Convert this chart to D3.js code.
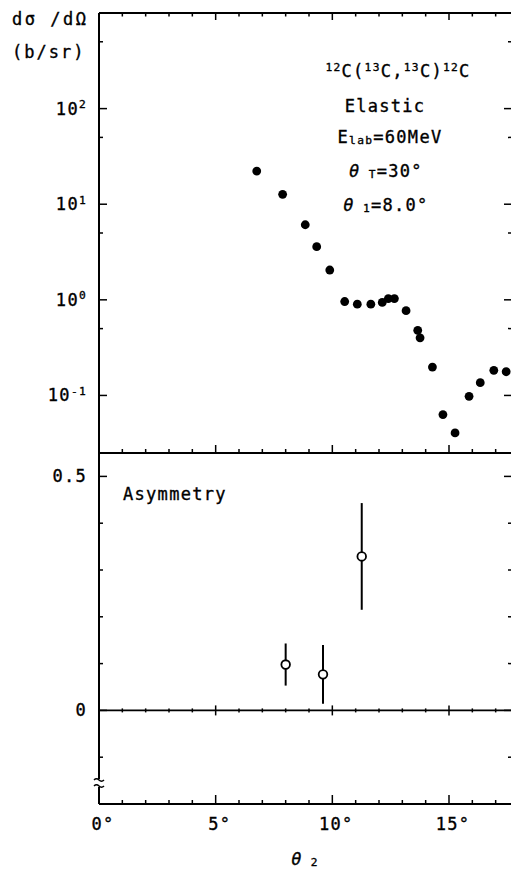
<!DOCTYPE html>
<html>
<head>
<meta charset="utf-8">
<script src="https://cdn.jsdelivr.net/npm/d3@7"></script>
<style>
  body { margin: 0; background: #fff; }
  svg { display: block; font-family: 'DejaVu Sans Mono', monospace; }
  text { fill: #000; stroke: #000; stroke-width: 0.35px; letter-spacing: 1.3px; }
</style>
</head>
<body>
<svg width="511" height="870"></svg>
<script>
// cross section data (theta2 in degrees, dsigma/dOmega in b/sr)
var thetaXS = [6.76, 7.87, 8.84, 9.33, 9.89, 10.53, 11.07, 11.65, 12.14, 12.40, 12.66,
               13.16, 13.66, 13.76, 14.29, 14.74, 15.26, 15.86, 16.34, 16.92, 17.45];
var xsValues = [22.2, 12.7, 6.1, 3.6, 2.05, 0.96, 0.90, 0.90, 0.94, 1.03, 1.03,
                0.77, 0.48, 0.40, 0.198, 0.063, 0.0405, 0.098, 0.136, 0.183, 0.177];

// asymmetry data
var thetaAsym = [8.0, 9.6, 11.26];
var asymValues = [0.098, 0.077, 0.329];
var asymErrors = [0.045, 0.063, 0.114];

// ticks
var xMajor = [0, 5, 10, 15];
var xMinor = d3.range(1, 18).filter(function (d) { return d % 5 !== 0; });
var xLabels = ["0°", "5°", "10°", "15°"];
var yTopMajor = [0.1, 1, 10, 100];
var yTopLabels = ["-1", "0", "1", "2"];
var yTopMinor = [0.5, 5, 50, 500];
var yBotMajor = [0, 0.5];
var yBotLabels = ["0", "0.5"];
var yBotMinor = [-0.1, 0.1, 0.2, 0.3, 0.4];

var svg = d3.select("svg");
var pLeft = 99, pRight = 512, pTop = 13, pMid = 453, pBottom = 804;

var x = d3.scaleLinear().domain([0, 17.7]).range([pLeft, pRight]);
var yTop = d3.scaleLog().domain([0.025, 1000]).range([pMid, pTop]);
var yBot = d3.scaleLinear().domain([-0.2, 0.55]).range([pBottom, pMid]);

var ink = "#000";

// frame lines
var frame = svg.append("g").attr("stroke", ink).attr("fill", "none").attr("stroke-width", 2);
frame.append("line").attr("x1", pLeft).attr("x2", pRight).attr("y1", pTop).attr("y2", pTop);
frame.append("line").attr("x1", pLeft).attr("x2", pRight).attr("y1", pMid).attr("y2", pMid);
frame.append("line").attr("x1", pLeft).attr("x2", pRight).attr("y1", pBottom).attr("y2", pBottom);
frame.append("line").attr("x1", pRight).attr("x2", pRight).attr("y1", pTop).attr("y2", pBottom);
frame.append("line").attr("x1", pLeft).attr("x2", pLeft).attr("y1", pTop).attr("y2", 779);
frame.append("line").attr("x1", pLeft).attr("x2", pLeft).attr("y1", 787).attr("y2", pBottom);
// axis break
frame.append("path").attr("stroke-width", 1.5)
    .attr("d", "M94,780 q2.5,-2.5 5,0 t5,0 M94,786 q2.5,-2.5 5,0 t5,0");

// zero line of asymmetry
svg.append("line").attr("x1", pLeft).attr("x2", pRight)
    .attr("y1", yBot(0)).attr("y2", yBot(0))
    .attr("stroke", ink).attr("stroke-width", 1.6);

var ticks = svg.append("g").attr("stroke", ink).attr("stroke-width", 1.5);

function xTicks(y0, list, len) {
    ticks.selectAll(null)
        .data(list)
        .enter()
        .append("line")
        .attr("x1", function (d) { return x(d); })
        .attr("x2", function (d) { return x(d); })
        .attr("y1", y0)
        .attr("y2", y0 + len);
}
// top border: ticks down
xTicks(pTop, xMajor, 7);
xTicks(pTop, xMinor, 3.5);
// middle border: ticks up
xTicks(pMid, xMajor, -8);
xTicks(pMid, xMinor, -4);
// bottom axis: ticks up
xTicks(pBottom, xMajor, -9);
xTicks(pBottom, xMinor, -4);
// zero line: ticks through
xTicks(yBot(0) - 5, xMajor, 10);
xTicks(yBot(0) - 2, xMinor, 4);

function yTicks(scale, list, len) {
    [[pLeft, len], [pRight, -len]].forEach(function (s) {
        ticks.selectAll(null)
            .data(list)
            .enter()
            .append("line")
            .attr("x1", s[0])
            .attr("x2", s[0] + s[1])
            .attr("y1", function (d) { return scale(d); })
            .attr("y2", function (d) { return scale(d); });
    });
}
yTicks(yTop, yTopMajor, 8);
yTicks(yTop, yTopMinor, 4);
yTicks(yBot, yBotMajor, 8);
yTicks(yBot, yBotMinor, 4);

// helper for text with super/subscripts
function rich(x0, y0, parts, size, anchor) {
    var t = svg.append("text")
        .attr("x", x0).attr("y", y0)
        .attr("text-anchor", anchor || "start")
        .style("font-size", size + "px");
    var shift = 0;
    parts.forEach(function (p) {
        var target = p.sup ? -size * 0.38 : (p.sub ? size * 0.08 : 0);
        var ts = t.append("tspan").text(p.t).attr("dy", target - shift);
        if (p.sup || p.sub) ts.style("font-size", (size * 0.66) + "px");
        if (p.it) ts.style("font-style", "italic");
        shift = target;
    });
    return t;
}

// y tick labels
yTopMajor.forEach(function (d, i) {
    rich(87, yTop(d) + 6, [{t: "10"}, {t: yTopLabels[i], sup: true}], 17, "end");
});
yBotMajor.forEach(function (d, i) {
    rich(87, yBot(d) + 6, [{t: yBotLabels[i]}], 17, "end");
});

// x tick labels
xMajor.forEach(function (d, i) {
    rich(x(d) + 4, 830, [{t: xLabels[i]}], 17, "middle");
});

// axis titles
rich(12, 25, [{t: "dσ /dΩ"}], 17, "start").style("letter-spacing", "2.5px");
rich(12, 58, [{t: "(b/sr)"}], 17, "start").style("letter-spacing", "2px");
rich(305, 865, [{t: "θ", it: true}, {t: " 2", sub: true}], 17, "middle");

// annotation
rich(398, 77, [{t: "12", sup: true}, {t: "C("}, {t: "13", sup: true}, {t: "C,"},
               {t: "13", sup: true}, {t: "C)"}, {t: "12", sup: true}, {t: "C"}], 17, "middle");
rich(385, 112, [{t: "Elastic"}], 17, "middle");
rich(390, 143, [{t: "E"}, {t: "lab", sub: true}, {t: "=60MeV"}], 17, "middle");
rich(386, 177, [{t: "θ", it: true}, {t: " T", sub: true}, {t: "=30°"}], 17, "middle");
rich(386, 211, [{t: "θ", it: true}, {t: " 1", sub: true}, {t: "=8.0°"}], 17, "middle");
rich(123, 500, [{t: "Asymmetry"}], 17, "start");

// cross section points
svg.append("g")
    .selectAll("circle")
    .data(thetaXS)
    .enter()
    .append("circle")
    .attr("cx", function (d) { return x(d); })
    .attr("cy", function (d, i) { return yTop(xsValues[i]); })
    .attr("r", 4.4)
    .attr("fill", ink);

// asymmetry error bars and points
var asym = svg.append("g");
asym.selectAll("line")
    .data(thetaAsym)
    .enter()
    .append("line")
    .attr("x1", function (d) { return x(d); })
    .attr("x2", function (d) { return x(d); })
    .attr("y1", function (d, i) { return yBot(asymValues[i] + asymErrors[i]); })
    .attr("y2", function (d, i) { return yBot(asymValues[i] - asymErrors[i]); })
    .attr("stroke", ink)
    .attr("stroke-width", 2);
asym.selectAll("circle")
    .data(thetaAsym)
    .enter()
    .append("circle")
    .attr("cx", function (d) { return x(d); })
    .attr("cy", function (d, i) { return yBot(asymValues[i]); })
    .attr("r", 4.3)
    .attr("fill", "#fff")
    .attr("stroke", ink)
    .attr("stroke-width", 1.8);
</script>
</body>
</html>
